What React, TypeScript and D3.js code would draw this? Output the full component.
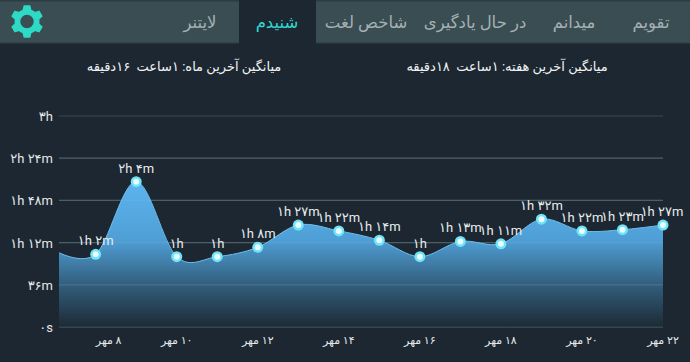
import React from 'react';
import * as d3 from 'd3';

const days = [7, 8, 9, 10, 11, 12, 13, 14, 15, 16, 17, 18, 19, 20, 21, 22];
const minutes = [65, 62, 124, 60, 60, 68, 87, 82, 74, 60, 73, 71, 92, 82, 83, 87];
const pointLabels = ['', '۱h ۲m', '۲h ۴m', '۱h', '۱h', '۱h ۸m', '۱h ۲۷m', '۱h ۲۲m', '۱h ۱۴m', '۱h', '۱h ۱۳m', '۱h ۱۱m', '۱h ۳۲m', '۱h ۲۲m', '۱h ۲۳m', '۱h ۲۷m'];
const yTicks = [0, 36, 72, 108, 144, 180];
const yLabels = ['۰s', '۳۶m', '۱h ۱۲m', '۱h ۴۸m', '۲h ۲۴m', '۳h'];
const xTicks = [8, 10, 12, 14, 16, 18, 20, 22];
const xLabels = ['۸ مهر', '۱۰ مهر', '۱۲ مهر', '۱۴ مهر', '۱۶ مهر', '۱۸ مهر', '۲۰ مهر', '۲۲ مهر'];
const tabs = ['تقویم', 'میدانم', 'در حال یادگیری', 'شاخص لغت', 'شنیدم', 'لایتنر'];
const tabCenters = [651, 574, 475, 366, 277, 200];
const monthAvg = 'میانگین آخرین ماه: ۱ساعت  ۱۶دقیقه';
const weekAvg = 'میانگین آخرین هفته: ۱ساعت  ۱۸دقیقه';

const FONT = 'Roboto, "DejaVu Sans", sans-serif';

function gearPath(cx: number, cy: number) {
  const teeth = 6, rO = 15.8, rI = 12, hole = 7.4;
  const pts: [number, number][] = [];
  for (let i = 0; i < teeth; i++) {
    const a = (i / teeth) * 2 * Math.PI - Math.PI / 2;
    const s = (2 * Math.PI) / teeth;
    [[-0.3, rI], [-0.17, rO], [0.17, rO], [0.3, rI]].forEach(([f, r]) => {
      pts.push([cx + r * Math.cos(a + f * s), cy + r * Math.sin(a + f * s)]);
    });
  }
  const line = d3.line().curve(d3.curveLinearClosed)(pts) as string;
  const h = `M${cx + hole},${cy}A${hole},${hole} 0 1,0 ${cx - hole},${cy}A${hole},${hole} 0 1,0 ${cx + hole},${cy}Z`;
  return line + h;
}

export default function App() {
  const x = d3.scaleLinear().domain([7.095, 22]).range([59, 663]);
  const y = d3.scaleLinear().domain([0, 180]).range([327, 116]);
  const curve = d3.curveCardinal.tension(0);
  const area = d3
    .area<number>()
    .x((_, i) => x(days[i]))
    .y0(y(0))
    .y1((d) => y(d))
    .curve(curve);
  const line = d3
    .line<number>()
    .x((_, i) => x(days[i]))
    .y((d) => y(d))
    .curve(curve);

  return (
    <svg
      width={690}
      height={362}
      style={{ position: 'absolute', left: 0, top: 0, display: 'block', background: '#1c2731' }}
      fontFamily={FONT}
    >
      <defs>
        <linearGradient id="fill" gradientUnits="userSpaceOnUse" x1="0" x2="0" y1={y(124)} y2={y(0)}>
          <stop offset="0" stopColor="#5cb4ee" />
          <stop offset="0.4" stopColor="#4f9fd6" />
          <stop offset="0.7" stopColor="#33607f" />
          <stop offset="1" stopColor="#1d2a35" />
        </linearGradient>
        <clipPath id="plot">
          <rect x={59} y={100} width={604} height={230} />
        </clipPath>
      </defs>

      <rect x={0} y={0} width={690} height={43} fill="#3a4d53" />
      <rect x={0} y={0} width={690} height={1.5} fill="#2c3c42" />
      <rect x={0} y={42} width={690} height={1.5} fill="#324349" />
      <rect x={239} y={0} width={77} height={44} fill="#1c2731" />
      <path d={gearPath(27, 21.5)} fill="#2ed9c6" fillRule="evenodd" stroke="#2ed9c6" strokeWidth={1.4} strokeLinejoin="round" />
      {tabs.map((t, i) => (
        <text
          key={t}
          x={tabCenters[i]}
          y={28}
          textAnchor="middle"
          direction="rtl"
          fontSize={16.5}
          fill={i === 4 ? '#33d6cf' : '#a5b1b3'}
        >
          {t}
        </text>
      ))}

      <text x={507} y={71} textAnchor="middle" direction="rtl" fontSize={13} fill="#f1f3f4" style={{ whiteSpace: 'pre' }}>{weekAvg}</text>
      <text x={184} y={71} textAnchor="middle" direction="rtl" fontSize={13} fill="#f1f3f4" style={{ whiteSpace: 'pre' }}>{monthAvg}</text>

      {yTicks.map((t) => (
        <line key={t} x1={59} x2={663} y1={y(t)} y2={y(t)} stroke="#3a474e" strokeWidth={1.2} />
      ))}

      <g clipPath="url(#plot)">
        <path d={area(minutes) as string} fill="url(#fill)" />
        <path d={line(minutes) as string} fill="none" stroke="#6cc0f0" strokeWidth={1} />
      </g>

      {yTicks.slice(0, 5).map((t) => (
        <line key={t} x1={59} x2={663} y1={y(t)} y2={y(t)} stroke="#8fb6cc" strokeOpacity={0.22} strokeWidth={1.2} />
      ))}

      {yTicks.map((t, i) => (
        <text key={t} x={53} y={y(t) + 5} textAnchor="end" fontSize={13} fill="#e4e8ea" direction="ltr">
          {yLabels[i]}
        </text>
      ))}

      {xTicks.map((d, i) => (
        <text key={d} x={x(d) + (i === 0 ? 13 : 0)} y={344} textAnchor="middle" direction="rtl" fontSize={11} fill="#e4e8ea">
          {xLabels[i]}
        </text>
      ))}

      {minutes.map((m, i) =>
        i === 0 ? null : (
          <g key={days[i]}>
            <circle cx={x(days[i])} cy={y(m)} r={5.5} fill="#6fe3f7" />
            <circle cx={x(days[i])} cy={y(m)} r={3} fill="#eafcff" />
            <text x={i === 15 ? x(days[i]) - 1 : x(days[i])} y={y(m) - 9} textAnchor="middle" fontSize={13} fill="#e8ecee" direction="ltr">
              {pointLabels[i]}
            </text>
          </g>
        ),
      )}
    </svg>
  );
}
